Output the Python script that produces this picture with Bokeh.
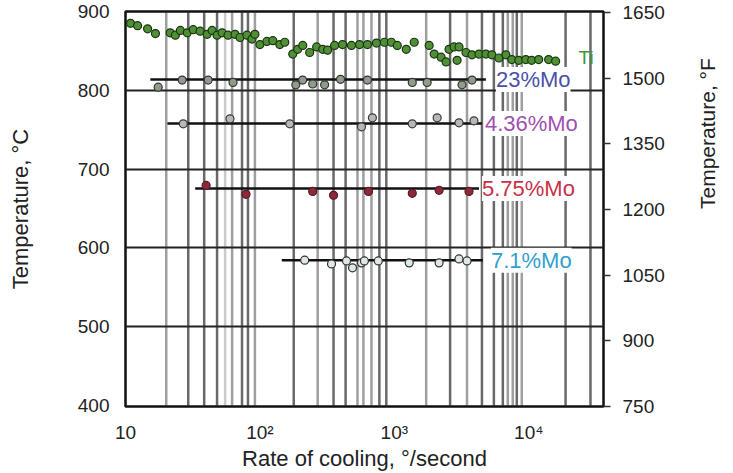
from math import pi
from bokeh.plotting import figure
from bokeh.models import Range1d, LinearAxis, FixedTicker
from bokeh.core.properties import value
from bokeh.embed import file_html
from bokeh.resources import INLINE

# ---------------- data ----------------
ti_rate = [10.9, 12.3, 14.6, 16.7,
           21.5, 23.5, 25.6, 28.8, 31.9, 35.9, 40.5, 44.1, 48.0, 52.3, 57.9, 65.3, 71.1, 80.1, 87.3, 91.8,
           100, 112.7, 124.8, 140.6, 153.1,
           175.5, 191.1, 208.4, 234.6, 264.3, 293, 318.9,
           359.5, 412, 480, 551, 631, 736, 843, 950, 1052, 1227, 1406,
           1817, 1979, 2229, 2427, 2553, 2782, 3029, 2931, 3414, 3784, 4266, 4800, 5321, 5998, 6761,
           7483, 8433, 9506, 10520, 11860, 14060, 15850]
ti_temp = [885, 882, 878, 872,
           873, 870, 876, 873, 877, 875, 871, 876, 870, 873, 870, 871, 867, 870, 865, 871,
           858, 862, 863, 858, 861,
           846, 852, 857, 848, 855, 852, 851,
           857, 858, 857, 858, 858, 860, 861, 861, 857, 852, 861,
           857, 846, 842, 836, 852, 855, 855, 838, 848, 845, 846, 846, 845, 841, 845,
           839, 838, 839, 838, 839, 839, 837]

mo23_rate = [17.5, 26.4, 41.2, 63.1, 185, 208, 247, 303, 398, 631, 1360, 1755, 3190, 3784]
mo23_temp = [804, 813, 813, 810, 807, 813, 808, 807, 814, 813, 810, 810, 807, 813]

mo436_rate = [26.9, 59.9, 166.8, 570, 687, 1360, 2083, 3029, 3912]
mo436_temp = [757.5, 763.8, 757.5, 753.7, 765.1, 757.5, 765.1, 758.8, 761.3]

mo575_rate = [39.8, 78.8, 247, 353, 642, 1360, 2154, 3594]
mo575_temp = [679.4, 668.1, 671.8, 666.8, 671.8, 669.3, 673.1, 671.8]

mo71_rate = [215.4, 341, 441, 488.6, 570, 599, 760, 1291, 2154, 3029, 3474]
mo71_temp = [584.5, 579.8, 583.6, 574.8, 581.1, 583.6, 583.6, 581.1, 581.1, 586.1, 583.6]

series_names = ["23%Mo", "4.36%Mo", "5.75%Mo", "7.1%Mo"]
fit_start = [15.3, 20.5, 33.0, 145.5]
fit_end = [4800, 4487, 4266, 4560]
fit_temp = [813.6, 757.9, 675.6, 584.5]
label_rate = [5700, 4720, 4487, 5234]
ti_label = "Ti"
ti_label_rate = 23460
ti_label_temp = 842

x_ticks = [10, 100, 1000, 10000]
x_tick_labels = ["10", "10²", "10³", "10⁴"]
c_ticks = [400, 500, 600, 700, 800, 900]
c_grid = [500, 600, 700, 800]
f_ticks = [750, 900, 1050, 1200, 1350, 1500, 1650]

streak_rate = [20.1, 29.3, 38.5, 48.0, 55.1, 62.1, 73.6, 81.5, 91.8, 178.5, 269, 353, 434,
               532, 589, 676, 774, 872, 1726, 2600, 3474, 4487, 5504, 6417, 6987, 7610,
               8150, 8876, 18800, 28800]
streak_shade = [0.45, 0.7, 0.7, 0.7, 0.25, 0.45, 0.7, 0.7, 0.45, 0.7, 0.45, 0.7, 0.7,
                0.45, 0.45, 0.45, 0.7, 0.7, 0.45, 0.7, 0.45, 0.7, 0.7, 0.7, 0.45, 0.45,
                0.7, 0.45, 0.7, 0.7]

# ---------------- figure ----------------
FONT = "Liberation Sans"
f_lo, f_hi = 750, 1652
y_lo, y_hi = (f_lo - 32) / 1.8, (f_hi - 32) / 1.8

p = figure(width=733, height=473, x_axis_type="log",
           x_range=(10, 36000), y_range=(y_lo, y_hi),
           output_backend="svg", toolbar_location=None,
           min_border_left=125, min_border_right=128,
           min_border_top=11, min_border_bottom=67)
p.background_fill_color = "white"
p.border_fill_color = "white"
p.outline_line_color = "#111111"
p.outline_line_width = 2.5

p.extra_y_ranges = {"F": Range1d(f_lo, f_hi)}

# vertical streaks
p.segment(x0=streak_rate, y0=[y_lo] * len(streak_rate), x1=streak_rate, y1=[y_hi] * len(streak_rate),
          line_color="#2a2a2a", line_width=2.5, line_alpha=streak_shade)

# grid
p.xgrid.grid_line_color = None
p.ygrid.ticker = FixedTicker(ticks=c_grid)
p.ygrid.grid_line_color = "#222222"
p.ygrid.grid_line_width = 2

# axes
xa = p.xaxis[0]
xa.ticker = FixedTicker(ticks=x_ticks)
xa.major_label_overrides = {t: l for t, l in zip(x_ticks, x_tick_labels)}
xa.axis_label = "Rate of cooling, °/second"
xa.axis_line_color = None
xa.major_tick_out = 0
xa.major_tick_in = 0
xa.minor_tick_out = 0
xa.minor_tick_in = 0
xa.major_label_standoff = 15
xa.axis_label_standoff = 0

ya = p.yaxis[0]
ya.ticker = FixedTicker(ticks=c_ticks)
ya.axis_label = "Temperature, °C"
ya.axis_line_color = None
ya.major_tick_out = 0
ya.major_tick_in = 0
ya.major_label_standoff = 16
ya.axis_label_standoff = 42

ra = LinearAxis(y_range_name="F", ticker=FixedTicker(ticks=f_ticks))
ra.axis_line_color = None
ra.major_tick_out = 7
ra.major_tick_in = 0
ra.major_tick_line_color = "#333333"
ra.major_tick_line_width = 1.5
ra.major_label_standoff = 12
ra.axis_label = "Temperature, °F"
ra.axis_label_standoff = 40
if hasattr(ra, "axis_label_orientation"):
    ra.axis_label_orientation = pi / 2
p.add_layout(ra, "right")

for ax in (xa, ya, ra):
    ax.major_label_text_font = FONT
    ax.major_label_text_font_size = "19px"
    ax.major_label_text_color = "#222222"
    ax.axis_label_text_font = FONT
    ax.axis_label_text_font_size = "21px"
    ax.axis_label_text_font_style = "normal"
    ax.axis_label_text_color = "#222222"
xa.axis_label_text_font_size = "22px"
ya.axis_label_text_font_size = "22px"

# fit lines
for s, e, t in zip(fit_start, fit_end, fit_temp):
    p.line(x=[s, e], y=[t, t], line_color="#111111", line_width=2.5)

# markers
p.scatter(ti_rate, ti_temp, size=8, fill_color="#4f8f36", line_color="#1c3412", line_width=1.2)
p.scatter(mo23_rate, mo23_temp, size=8, fill_color="#8f9c8c", line_color="#333333", line_width=1.2)
p.scatter(mo436_rate, mo436_temp, size=8, fill_color="#b8b8b8", line_color="#3a3a3a", line_width=1.2)
p.scatter(mo575_rate, mo575_temp, size=8, fill_color="#8c2a3c", line_color="#5a1a22", line_width=1.2)
p.scatter(mo71_rate, mo71_temp, size=8, fill_color="#dde8e2", line_color="#333333", line_width=1.2)

# labels
label_colors = ["#4a50a8", "#a050b0", "#c8304a", "#2fa0cc"]
p.text(x=label_rate, y=fit_temp, text=series_names,
       text_font=value(FONT), text_font_size="22px", text_color=label_colors,
       text_align="left", text_baseline="middle",
       background_fill_color="white")
p.text(x=[ti_label_rate], y=[ti_label_temp], text=[ti_label],
       text_font=value(FONT), text_font_size="19px", text_color="#3a9a3a",
       text_align="left", text_baseline="middle")

open("out.html", "w").write(file_html(p, INLINE))
